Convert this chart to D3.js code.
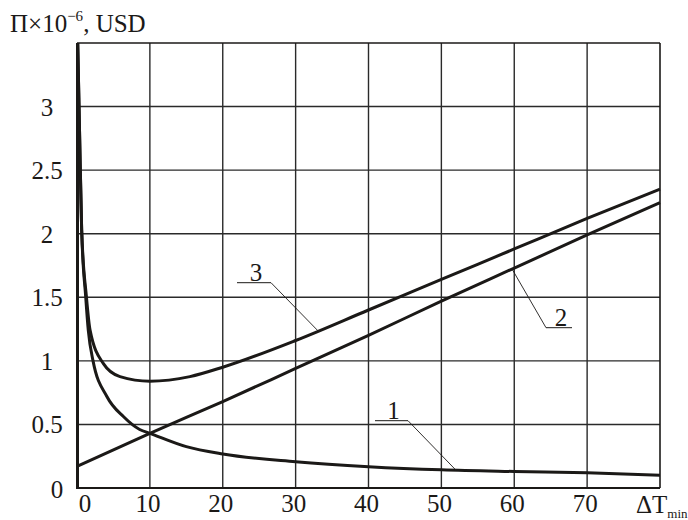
<!DOCTYPE html>
<html><head><meta charset="utf-8">
<script src="https://cdn.jsdelivr.net/npm/d3@7"></script>
<style>
html,body{margin:0;padding:0;background:#fff;}
svg{display:block;font-family:"Liberation Serif","Times New Roman",serif;}
</style></head>
<body>
<svg id="chart" width="688" height="520"></svg>
<script>
// ---- data ----
const xTicks = [0, 10, 20, 30, 40, 50, 60, 70];
const xTickLabels = ["0", "10", "20", "30", "40", "50", "60", "70"];
const yTicks = [0, 0.5, 1, 1.5, 2, 2.5, 3];
const yTickLabels = ["0", "0.5", "1", "1.5", "2", "2.5", "3"];

const curve1X = [0.1, 0.35, 0.64, 1.2, 1.55, 2.2, 4.1, 6.4, 8.6, 10, 15, 20, 30, 40, 50, 60, 70, 80];
const curve1Y = [3.5, 2.8, 2.03, 1.5, 1.24, 1.0, 0.72, 0.56, 0.46, 0.43, 0.325, 0.267, 0.207, 0.168, 0.143, 0.13, 0.12, 0.10];

const curve2X = [0, 10, 20, 30, 40, 50, 60, 70, 80];
const curve2Y = [0.17, 0.43, 0.68, 0.94, 1.2, 1.47, 1.73, 1.99, 2.245];

const curve3X = [0.1, 0.35, 0.64, 1.3, 1.8, 3.6, 5.9, 10, 15.5, 20, 30, 40, 50, 60, 70, 80];
const curve3Y = [3.5, 2.8, 2.03, 1.5, 1.24, 0.98, 0.876, 0.84, 0.876, 0.95, 1.16, 1.40, 1.64, 1.88, 2.12, 2.35];

const curveNames = ["1", "2", "3"];

// ---- drawing ----
const svg = d3.select("#chart");
const x = d3.scaleLinear().domain([0, 80]).range([77, 660]);
const y = d3.scaleLinear().domain([0, 3.5]).range([488, 43]);
const ink = "#1b1917";

// grid
const g = svg.append("g");
g.selectAll("line.vx").data(xTicks.slice(1)).join("line")
  .attr("x1", d => x(d)).attr("x2", d => x(d))
  .attr("y1", y(0)).attr("y2", y(3.5))
  .attr("stroke", "#2a2a2a").attr("stroke-width", 1.4);
g.selectAll("line.hy").data(yTicks.slice(1)).join("line")
  .attr("x1", x(0)).attr("x2", x(80))
  .attr("y1", d => y(d)).attr("y2", d => y(d))
  .attr("stroke", "#2a2a2a").attr("stroke-width", 1.4);

// frame
g.append("line").attr("x1", x(0)).attr("x2", x(80)).attr("y1", y(3.5)).attr("y2", y(3.5))
  .attr("stroke", ink).attr("stroke-width", 1.6);
g.append("line").attr("x1", x(80)).attr("x2", x(80)).attr("y1", y(0)).attr("y2", y(3.5))
  .attr("stroke", ink).attr("stroke-width", 1.6);
g.append("line").attr("x1", x(0)).attr("x2", x(80)).attr("y1", y(0)).attr("y2", y(0))
  .attr("stroke", ink).attr("stroke-width", 2.2);
g.append("line").attr("x1", x(0) + 0.5).attr("x2", x(0) + 0.5).attr("y1", y(0) + 1).attr("y2", y(3.5))
  .attr("stroke", ink).attr("stroke-width", 3);

// curves
const line = d3.line().x(d => x(d[0])).y(d => y(d[1])).curve(d3.curveMonotoneX);
const series = [
  d3.zip(curve1X, curve1Y),
  d3.zip(curve2X, curve2Y),
  d3.zip(curve3X, curve3Y)
];
svg.append("g").selectAll("path").data(series).join("path")
  .attr("d", line).attr("fill", "none")
  .attr("stroke", ink).attr("stroke-width", 3).attr("stroke-linejoin", "round");

// y tick labels
svg.append("g").selectAll("text").data(yTicks).join("text")
  .attr("x", (d, i) => d === 0 ? 57 : 47)
  .attr("y", d => d === 0 ? y(d) + 10 : y(d) + 9)
  .attr("text-anchor", "middle")
  .attr("font-size", 25).attr("fill", ink)
  .text((d, i) => yTickLabels[i]);

// x tick labels
svg.append("g").selectAll("text").data(xTicks).join("text")
  .attr("x", d => d === 0 ? x(d) + 8 : x(d) - 2)
  .attr("y", 512)
  .attr("text-anchor", "middle")
  .attr("font-size", 25).attr("fill", ink)
  .text((d, i) => xTickLabels[i]);

// x axis title
const xt = svg.append("text").attr("x", 636).attr("y", 513)
  .attr("font-size", 25).attr("fill", ink);
xt.append("tspan").text("ΔT");
xt.append("tspan").attr("font-size", 13).attr("dy", 5).text("min");

// y axis title
const yt = svg.append("text").attr("x", 10).attr("y", 32)
  .attr("font-size", 25).attr("fill", ink);
yt.append("tspan").text("Π×10");
yt.append("tspan").attr("font-size", 15).attr("dy", -11).text("−6");
yt.append("tspan").attr("dy", 11).text(", USD");

// callouts: [label index, curve value x for anchor, label centre x, label baseline y, underline from, underline to, leader end on shelf side]
const callouts = [
  {name: curveNames[0], series: 0, at: 52, ux1: 375, ux2: 408, uy: 420.7, side: "right"},
  {name: curveNames[1], series: 1, at: 59.7, ux1: 546, ux2: 572, uy: 327.7, side: "left"},
  {name: curveNames[2], series: 2, at: 33.1, ux1: 237, ux2: 271, uy: 282.7, side: "right"}
];
const interp = (xs, ys, v) => {
  const i = d3.bisectLeft(xs, v);
  if (i <= 0) return ys[0];
  if (i >= xs.length) return ys[ys.length - 1];
  const t = (v - xs[i - 1]) / (xs[i] - xs[i - 1]);
  return ys[i - 1] + t * (ys[i] - ys[i - 1]);
};
const cg = svg.append("g");
callouts.forEach(c => {
  const xs = [curve1X, curve2X, curve3X][c.series];
  const ys = [curve1Y, curve2Y, curve3Y][c.series];
  const px = x(c.at), py = y(interp(xs, ys, c.at));
  const sx = c.side === "right" ? c.ux2 : c.ux1;
  cg.append("line").attr("x1", c.ux1).attr("x2", c.ux2).attr("y1", c.uy).attr("y2", c.uy)
    .attr("stroke", ink).attr("stroke-width", 1);
  cg.append("line").attr("x1", sx).attr("y1", c.uy).attr("x2", px).attr("y2", py)
    .attr("stroke", ink).attr("stroke-width", 0.9);
  cg.append("text").attr("x", (c.ux1 + c.ux2) / 2 + 2).attr("y", c.uy - 2)
    .attr("text-anchor", "middle").attr("font-size", 25).attr("fill", ink).text(c.name);
});
</script>
</body></html>
